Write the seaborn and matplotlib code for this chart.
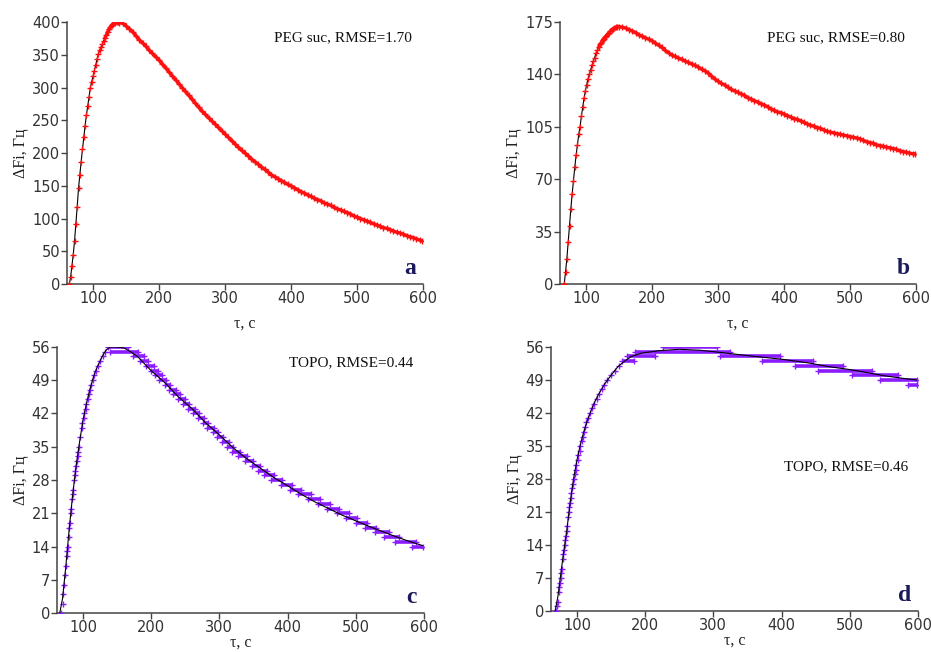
import numpy as np
import pandas as pd
import seaborn as sns
import matplotlib.pyplot as plt

# --- panel a: PEG suc, RMSE=1.70 (red data, black fit) ---
a_t = [64, 66, 68, 70, 72, 74, 76, 78, 80, 82, 84, 86, 88, 90, 92, 94, 96, 98, 100,
       102, 104, 106, 108, 110, 112, 114, 116, 118, 120, 122, 124, 126, 128, 130, 132,
       134, 136, 138, 140,
       145, 150, 155, 160, 165, 170, 175, 180, 185, 190, 195, 200, 205, 210, 215, 220,
       225, 230, 235, 240, 245, 250, 255, 260, 265, 270, 275, 280, 285, 290, 295, 300,
       305, 310, 315, 320, 325, 330, 335, 340, 345, 350, 355, 360, 365, 370, 375, 380,
       385, 390, 395, 400, 405, 410, 415, 420, 425, 430, 435, 440, 445, 450, 455, 460,
       465, 470, 475, 480, 485, 490, 495, 500, 505, 510, 515, 520, 525, 530, 535, 540,
       545, 550, 555, 560, 565, 570, 575, 580, 585, 590, 595, 598]
a_f = [0, 10, 28, 45, 66, 91, 118, 146, 167, 187, 206, 224, 242, 258, 272, 286, 300, 309, 317,
       326, 334, 343, 351, 357, 362, 366, 371, 376, 380, 385, 389, 392, 395, 397, 398,
       399, 400, 400, 399,
       398, 394, 390, 385, 379, 373, 368, 363, 357, 352, 347, 342, 336, 330, 324, 318,
       312, 306, 300, 294, 288, 282, 276, 270, 264, 259, 254, 249, 244, 239, 234, 229,
       224, 219, 214, 209, 204, 200, 196, 191, 187, 183, 179, 175, 171, 167, 164, 161,
       158, 155, 152, 150, 147, 144, 141, 139, 136, 134, 131, 129, 127, 124, 122, 120,
       117, 115, 113, 111, 109, 107, 104, 102, 100, 98, 96, 94, 92, 90, 88, 86,
       85, 83, 81, 79, 78, 76, 74, 72, 71, 69, 67, 66]

# --- panel b: PEG suc, RMSE=0.80 ---
b_t = [67, 69, 71, 73, 75, 77, 79, 81, 83, 85, 87, 89, 91, 93, 95, 97, 99, 101, 103,
       105, 107, 109, 111, 113, 115, 117, 119, 121, 123, 125, 127, 129, 131, 133, 135,
       137, 139, 141, 143, 145, 147,
       150, 155, 160, 165, 170, 175, 180, 185, 190, 195, 200, 205, 210, 215, 220, 225,
       230, 235, 240, 245, 250, 255, 260, 265, 270, 275, 280, 285, 290, 295, 300, 305,
       310, 315, 320, 325, 330, 335, 340, 345, 350, 355, 360, 365, 370, 375, 380, 385,
       390, 395, 400, 405, 410, 415, 420, 425, 430, 435, 440, 445, 450, 455, 460, 465,
       470, 475, 480, 485, 490, 495, 500, 505, 510, 515, 520, 525, 530, 535, 540, 545,
       550, 555, 560, 565, 570, 575, 580, 585, 590, 595, 598]
b_f = [0, 8, 17, 28, 39, 50, 60, 69, 78, 86, 93, 100, 105, 112, 118, 124, 129, 133, 137,
       140, 143, 146, 149, 151, 154, 156, 158, 160, 161, 163, 164, 165, 166, 167, 168,
       169, 170, 170.5, 171, 171.5, 172,
       172, 171.5, 171, 170, 169, 168, 166.5, 165.5, 164.5, 163.5, 162.5, 161, 159.5, 158, 156, 154.5,
       153, 152, 151, 150, 149, 148, 147, 146, 145, 143.5, 142.5, 141, 139, 137, 135.5, 134,
       133, 131.5, 130, 129, 128, 127, 126, 124.5, 123.5, 122.5, 121.5, 120.5, 119.5, 118.5, 117, 116,
       115, 114.5, 113.5, 112.5, 111.5, 110.5, 110, 109, 108, 107, 106, 105.5, 104.5, 104, 103, 102,
       101.5, 101, 100.5, 100, 99.5, 99, 98.5, 98, 97.5, 97, 96, 95, 94.5, 94, 93, 92.5,
       92, 91.5, 91, 90.5, 90, 89, 88.5, 88, 87.5, 87, 87]

# --- panel c: TOPO, RMSE=0.44 ---
c_rise_t = [68, 70, 71, 72, 74, 75, 76, 77, 78, 79, 80, 81, 82, 83, 84, 85, 86, 87, 88,
            89, 90, 91, 92, 93, 94, 96, 98, 99, 101, 102, 104, 105, 107, 109, 110, 112,
            114, 116, 119, 122, 125, 129, 133]
c_rise_f = [0, 2, 4, 6, 8, 10, 12, 13, 14, 16, 18, 19, 21, 22, 24, 25, 26, 28, 29,
            30, 31, 32, 33, 34, 35, 37, 39, 40, 41, 42, 43, 44, 45, 46, 47, 48,
            49, 50, 51, 52, 53, 54, 55]
c_level = [56, 55, 54, 53, 52, 51, 50, 49, 48, 47, 46, 45, 44, 43, 42, 41, 40, 39, 38,
           37, 36, 35, 34, 33, 32, 31, 30, 29, 28, 27, 26, 25, 24, 23, 22, 21, 20, 19,
           18, 17, 16, 15, 14]
c_start = [137, 140, 174, 184, 192, 200, 206, 212, 220, 226, 232, 240, 246, 254, 262, 268, 276, 282, 290,
           296, 304, 311, 318, 328, 338, 348, 356, 366, 376, 390, 403, 416, 430, 444, 458, 472, 486, 500,
           514, 528, 542, 558, 582]
c_end = [166, 180, 190, 196, 204, 210, 216, 222, 228, 236, 242, 250, 256, 264, 270, 278, 284, 292, 298,
         306, 314, 320, 330, 340, 350, 360, 370, 380, 392, 406, 419, 434, 448, 462, 476, 490, 502, 516,
         530, 548, 564, 588, 598]
c_fit_t = [66, 70, 75, 80, 85, 90, 95, 100, 105, 110, 115, 120, 125, 130, 135, 140, 150, 160,
           170, 180, 190, 200, 220, 240, 260, 280, 300, 320, 340, 360, 380, 400, 420, 440,
           460, 480, 500, 520, 540, 560, 580, 598]
c_fit_f = [0, 3, 10, 18, 25, 31, 36, 40.5, 44, 47, 49.5, 51.5, 53, 54.5, 55.5, 56, 56, 55.8,
           55, 54, 52.5, 51, 48.5, 45.5, 43, 40, 37.5, 34.8, 32.5, 30.5, 28.5, 26.8, 25, 23.4,
           22, 20.6, 19.4, 18.2, 17.1, 16, 15, 14.2]

# --- panel d: TOPO, RMSE=0.46 ---
d_rise_t = [70, 71, 72, 73, 74, 75, 76, 77, 78, 79, 80, 81, 82, 83, 84, 85, 86, 87, 88,
            89, 90, 91, 92, 93, 94, 95, 97, 98, 99, 101, 102, 104, 105, 107, 109, 110,
            112, 114, 116, 119, 122, 125, 129, 133, 136, 140, 144, 150, 156, 162]
d_rise_f = [0, 1, 2, 4, 5, 6, 7, 8, 9, 11, 12, 13, 14, 15, 16, 17, 18, 20, 21,
            22, 23, 24, 25, 26, 27, 28, 29, 30, 31, 32, 33, 34, 35, 36, 37, 38,
            39, 40, 41, 42, 43, 44, 45, 46, 47, 48, 49, 50, 51, 52]
d_level = [53, 54, 55, 56, 54, 53, 52, 51, 50, 49, 48]
d_start = [166, 173, 185, 226, 310, 371, 420, 453, 503, 544, 586]
d_end = [183, 214, 324, 305, 398, 446, 490, 532, 571, 598, 598]
d_fit_t = [68, 72, 76, 80, 85, 90, 95, 100, 105, 110, 115, 120, 125, 130, 140, 150, 160,
           170, 180, 195, 220, 250, 280, 300, 330, 360, 400, 440, 470, 500, 520, 550,
           580, 598]
d_fit_f = [0, 3, 7.5, 12, 17, 23, 28, 32, 35.3, 38, 40.3, 42.2, 44, 45.5, 48, 50, 51.8,
           53, 54, 54.7, 55.2, 55.5, 55.3, 55, 54.5, 54, 53.4, 52.6, 51.8, 51.2, 50.7, 49.9,
           49.3, 49]

labels = ["PEG suc, RMSE=1.70", "PEG suc, RMSE=0.80", "TOPO, RMSE=0.44", "TOPO, RMSE=0.46"]
letters = ["a", "b", "c", "d"]
yticks = [[0, 50, 100, 150, 200, 250, 300, 350, 400],
          [0, 35, 70, 105, 140, 175],
          [0, 7, 14, 21, 28, 35, 42, 49, 56],
          [0, 7, 14, 21, 28, 35, 42, 49, 56]]
xticks = [100, 200, 300, 400, 500, 600]

RED = "#ff1010"
PURPLE = "#8a1cff"
NAVY = "#1c1a5c"

sns.set_theme(style="ticks")
plt.rcParams['font.family'] = ['DejaVu Sans']

fig = plt.figure(figsize=(9.31, 6.52), dpi=100)
axes = [fig.add_axes([0.072, 0.5644, 0.3824, 0.4018]),
        fig.add_axes([0.6015, 0.5644, 0.3824, 0.4018]),
        fig.add_axes([0.0612, 0.0598, 0.3942, 0.408]),
        fig.add_axes([0.5918, 0.0629, 0.3942, 0.405])]

# a, b: smooth red data with black fit
for ax, t, f in [(axes[0], a_t, a_f), (axes[1], b_t, b_f)]:
    df = pd.DataFrame({"t": t, "f": f})
    sns.lineplot(data=df, x="t", y="f", color="black", lw=0.8, ax=ax, zorder=2)
    dec = df[df["t"] >= 118]
    sns.lineplot(data=dec, x="t", y="f", color=RED, lw=2.4, ax=ax, zorder=3)
    sns.scatterplot(data=df, x="t", y="f", marker="+", s=15, color=RED,
                    linewidth=1.0, ax=ax, zorder=4)

# c, d: quantised purple data (runs of equal values) with black fit
for ax, rt, rf, lev, st, en, ft, ff in [
        (axes[2], c_rise_t, c_rise_f, c_level, c_start, c_end, c_fit_t, c_fit_f),
        (axes[3], d_rise_t, d_rise_f, d_level, d_start, d_end, d_fit_t, d_fit_f)]:
    ax.hlines(lev, st, en, color=PURPLE, lw=2.6, zorder=2)
    pts = pd.DataFrame({"t": list(rt) + list(st) + list(en),
                        "f": list(rf) + list(lev) + list(lev)})
    sns.scatterplot(data=pts, x="t", y="f", marker="+", s=16, color=PURPLE,
                    linewidth=1.0, ax=ax, zorder=3)
    sns.lineplot(x=ft, y=ff, color="black", lw=0.8, ax=ax, zorder=4)

xlims = [(60.6, 600), (60.6, 600), (61.9, 600), (61.9, 600)]
txt_pos = [(0.97, 0.94), (0.97, 0.94), (0.97, 0.94), (0.973, 0.545)]
xpads = [7, 7, 0, 0]
for i, ax in enumerate(axes):
    ax.set_xlim(*xlims[i])
    ax.set_ylim(0, yticks[i][-1])
    ax.set_xticks(xticks)
    ax.set_yticks(yticks[i])
    ax.tick_params(axis="both", direction="out", length=4, width=1, color="#444444",
                   labelcolor="#333333", labelsize=10.5, pad=1)
    for s in ["top", "right"]:
        ax.spines[s].set_visible(False)
    for s in ["left", "bottom"]:
        ax.spines[s].set_color("#444444")
        ax.spines[s].set_linewidth(1.1)
    ax.set_xlabel("τ, с", family="Liberation Serif", fontsize=11.5, color="#222222",
                  labelpad=xpads[i])
    ax.set_ylabel("ΔFi, Гц", family="Liberation Serif", fontsize=11.5, color="#222222", labelpad=2)
    ax.text(txt_pos[i][0], txt_pos[i][1], labels[i], transform=ax.transAxes,
            ha="right", va="center", family="Liberation Serif", fontsize=11, color="#111111")
    ax.text(0.965, 0.06, letters[i], transform=ax.transAxes, ha="center", va="center",
            family="Liberation Serif", fontsize=17, fontweight="bold", color=NAVY)

fig.savefig("out.png", dpi=100)
